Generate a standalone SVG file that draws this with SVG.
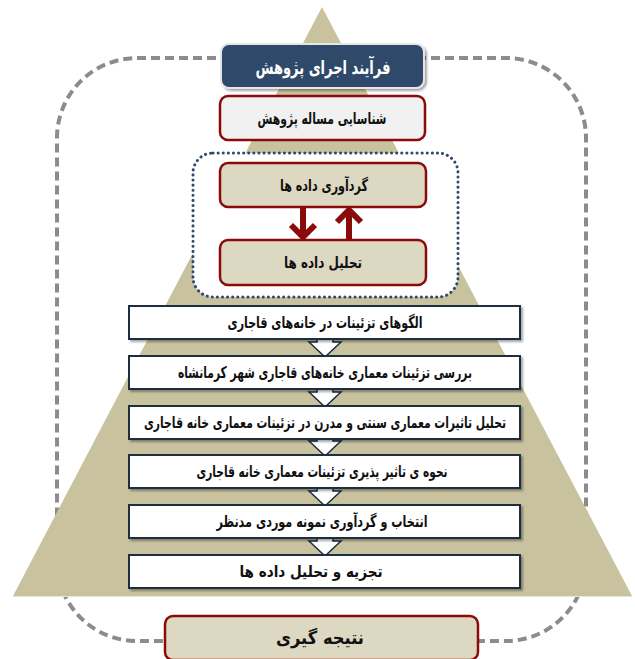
<svg xmlns="http://www.w3.org/2000/svg" width="635" height="659" viewBox="0 0 635 659">
<defs>
<filter id="sh" x="-10%" y="-20%" width="120%" height="150%">
<feDropShadow dx="2" dy="2" stdDeviation="1.2" flood-color="#000" flood-opacity="0.35"/>
</filter>
<style>
text{font-family:"DejaVu Sans","Noto Sans",sans-serif;font-weight:bold;text-anchor:middle;dominant-baseline:central;fill:#111}
.flow{fill:#fff;stroke:#1c2d40;stroke-width:2}
.red{stroke:#8b0a0a;stroke-width:2.5}
.beige{fill:#ddd8c2}
.blk{fill:#fff;stroke:#1c2d40;stroke-width:1.5;stroke-linejoin:miter}
.ra{stroke:#8b0a0a;stroke-width:6;fill:none}
.ft{font-size:16px}
</style>
</defs>
<rect x="57" y="58" width="529" height="583" rx="80" ry="80" fill="none" stroke="#8c8c8c" stroke-width="4" stroke-dasharray="9,5"/>
<polygon points="322,7 632,596 13,596" fill="#c9c29f"/>
<line x1="13" y1="596.5" x2="632" y2="596.5" stroke="#e8e6dc" stroke-width="1"/>
<rect x="193" y="153" width="265" height="144" rx="20" ry="20" fill="#fff" stroke="#2e4a6e" stroke-width="3" stroke-dasharray="0.1,5" stroke-linecap="round"/>
<g id="connectors">
<line class="ra" x1="303" y1="207" x2="303" y2="236"/>
<polyline class="ra" points="291,225 303,237 315,225"/>
<line class="ra" x1="349" y1="211" x2="349" y2="240"/>
<polyline class="ra" points="337,222 349,210 361,222"/>
<path class="blk" d="M317,330 V342 H309 L325,357 L341,342 H333 V330 Z"/>
<path class="blk" d="M317,380 V392 H309 L325,407 L341,392 H333 V380 Z"/>
<path class="blk" d="M317,430 V441 H309 L325,456 L341,441 H333 V430 Z"/>
<path class="blk" d="M317,480 V491 H309 L325,506 L341,491 H333 V480 Z"/>
<path class="blk" d="M317,530 V541 H309 L325,556 L341,541 H333 V530 Z"/>
</g>
<g id="title">
<rect x="221" y="44" width="203" height="44" rx="8" fill="#2d4a6b" stroke="#e6e6e6" stroke-width="2" filter="url(#sh)"/>
<text x="323" y="67" textLength="135" lengthAdjust="spacingAndGlyphs" style="font-size:19px;fill:#fff">فرآیند اجرای پژوهش</text>
</g>
<g id="n1">
<rect x="220" y="96" width="205" height="44" rx="8" fill="#f1f1f1" class="red"/>
<text x="322" y="118" class="ft" textLength="129" lengthAdjust="spacingAndGlyphs">شناسایی مساله  پژوهش</text>
</g>
<g id="n2">
<rect x="220" y="163" width="206" height="44" rx="8" class="red beige"/>
<text x="324" y="185" class="ft" textLength="88" lengthAdjust="spacingAndGlyphs">گردآوری داده ها</text>
</g>
<g id="n3">
<rect x="220" y="240" width="206" height="45" rx="8" class="red beige"/>
<text x="323" y="262" class="ft" textLength="78" lengthAdjust="spacingAndGlyphs">تحلیل  داده ها</text>
</g>
<g id="f1">
<rect x="129" y="306" width="391" height="33" class="flow" filter="url(#sh)"/>
<text x="325" y="322" class="ft" textLength="195" lengthAdjust="spacingAndGlyphs">الگوهای تزئینات در خانه‌های قاجاری</text>
</g>
<g id="f2">
<rect x="129" y="356" width="391" height="33" class="flow" filter="url(#sh)"/>
<text x="325" y="372" class="ft" textLength="294" lengthAdjust="spacingAndGlyphs">بررسی تزئینات معماری خانه‌های قاجاری شهر کرمانشاه</text>
</g>
<g id="f3">
<rect x="129" y="406" width="391" height="33" class="flow" filter="url(#sh)"/>
<text x="325" y="422" class="ft" textLength="362" lengthAdjust="spacingAndGlyphs">تحلیل تاثیرات معماری سنتی و مدرن در تزئینات معماری خانه قاجاری</text>
</g>
<g id="f4">
<rect x="129" y="455" width="391" height="33" class="flow" filter="url(#sh)"/>
<text x="322" y="471" class="ft" textLength="251" lengthAdjust="spacingAndGlyphs">نحوه ی تاثیر پذیری تزئینات معماری خانه قاجاری</text>
</g>
<g id="f5">
<rect x="129" y="505" width="391" height="33" class="flow" filter="url(#sh)"/>
<text x="322" y="521" class="ft" textLength="211" lengthAdjust="spacingAndGlyphs">انتخاب و گردآوری  نمونه موردی مدنظر</text>
</g>
<g id="f6">
<rect x="129" y="555" width="391" height="33" class="flow" filter="url(#sh)"/>
<text x="311" y="571" class="ft" textLength="143" lengthAdjust="spacingAndGlyphs">تجزیه و تحلیل داده ها</text>
</g>
<g id="n4">
<rect x="165" y="616" width="313" height="44" rx="8" class="red beige"/>
<text x="320" y="637" textLength="88" lengthAdjust="spacingAndGlyphs" style="font-size:18px">نتیجه گیری</text>
</g>
</svg>
